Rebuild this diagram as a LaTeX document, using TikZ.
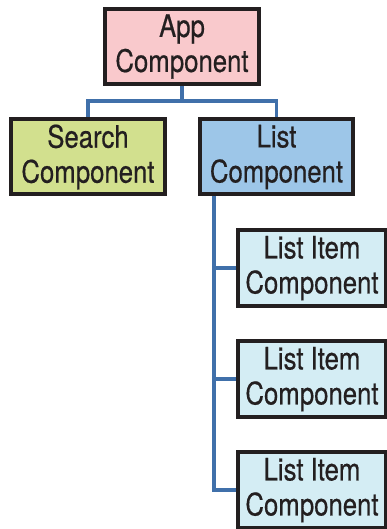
\documentclass[tikz,border=0pt]{standalone}
\usepackage{fontspec}
\setmainfont{TeX Gyre Heros}[FakeStretch=0.83,FakeBold=0.5]
\usetikzlibrary{backgrounds}
\definecolor{appfill}{HTML}{F9C9CC}
\definecolor{searchfill}{HTML}{D2E08E}
\definecolor{listfill}{HTML}{9DC6E8}
\definecolor{itemfill}{HTML}{D4EDF4}
\definecolor{linkblue}{HTML}{4070AA}
\definecolor{boxline}{HTML}{231F20}
\begin{document}
\begin{tikzpicture}[x=1pt,y=1pt,
  comp/.style={draw=boxline,line width=4pt,align=center,inner sep=0pt,
    text=boxline,font=\fontsize{31}{35}\selectfont,
    minimum width=154pt,minimum height=75pt},
  itemcomp/.style={comp,fill=itemfill,minimum width=148pt,minimum height=76pt},
  link/.style={draw=linkblue,line width=3.5pt}]
\useasboundingbox (0,0) rectangle (387,-529);
\node[comp,fill=appfill] (app) at (182,-46.5) {App\\Component};
\node[comp,fill=searchfill] (search) at (88,-157) {Search\\Component};
\node[comp,fill=listfill,minimum width=153pt] (list) at (276.5,-157) {List\\Component};
\node[itemcomp] (item1) at (312,-268) {List Item\\Component};
\node[itemcomp] (item2) at (312,-379) {List Item\\Component};
\node[itemcomp] (item3) at (312,-490) {List Item\\Component};
\coordinate (bus) at (182,-101);
\coordinate (trunk) at (214,-196);
\begin{scope}[on background layer]
\draw[link] (app.south) -- (bus);
\draw[link] (bus) -| (search.north);
\draw[link] (bus) -| (list.north);
\draw[link] (trunk) |- (item3.west);
\draw[link] (trunk) |- (item1.west);
\draw[link] (trunk) |- (item2.west);
\end{scope}
\end{tikzpicture}
\end{document}
